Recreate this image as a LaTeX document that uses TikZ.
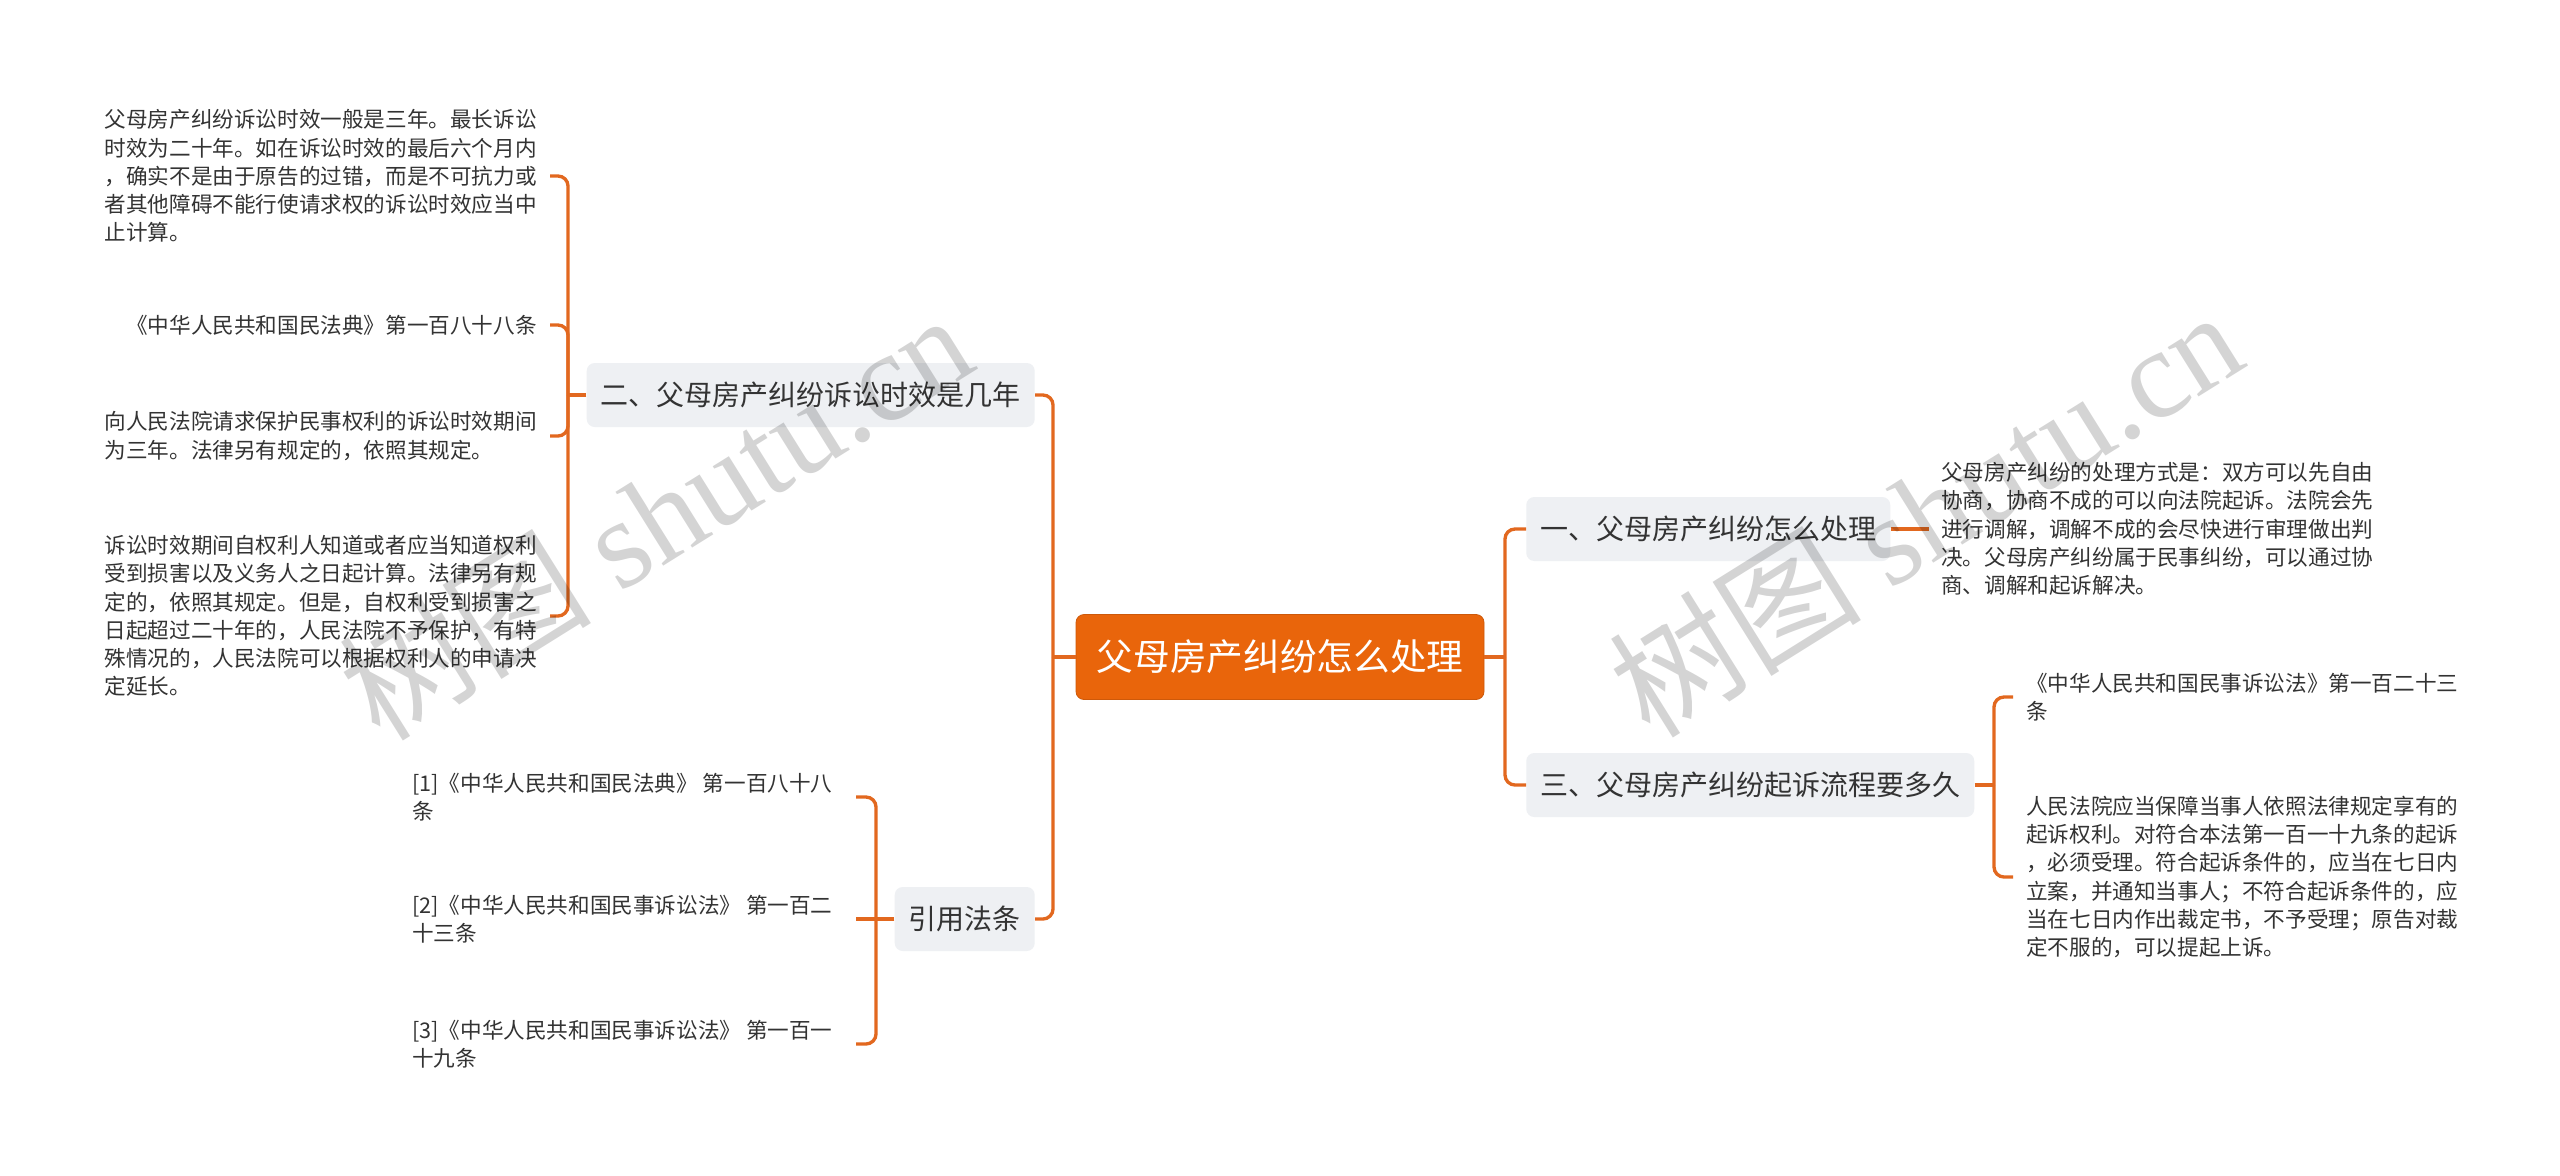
\documentclass[tikz,border=0pt]{standalone}
\usepackage{fontspec}
\setmainfont{Noto Sans CJK SC}
\newfontfamily\wmfont{Liberation Serif}
\definecolor{lineor}{HTML}{E2681F}
\definecolor{rootor}{HTML}{E9650B}
\definecolor{boxgray}{HTML}{EEF0F3}
\definecolor{txt}{HTML}{333333}
\tikzset{
  rootbox/.style={fill=rootor, draw=rootor!88!black, line width=0.6pt, text=white,
    rounded corners=6pt, minimum width=306pt, minimum height=63.75pt, inner xsep=14pt,
    font=\fontsize{27.5}{33}\selectfont},
  branch/.style={fill=boxgray, draw=none, text=txt, rounded corners=6pt,
    minimum height=48pt, inner xsep=10.5pt, inner ysep=0pt,
    font=\fontsize{21}{25}\selectfont},
  leaf/.style={align=left, inner sep=0pt, text=txt,
    font=\fontsize{16.2}{21.15}\selectfont},
  conn/.style={draw=lineor, line width=2.5pt, rounded corners=7.5pt},
  wmark/.style={rotate=32, text=black, text opacity=0.17, inner sep=0pt,
    font=\fontsize{95}{100}\selectfont}
}
\begin{document}
\begin{tikzpicture}[x=0.75pt,y=-0.75pt]
\fill[white] (0,0) rectangle (2560,1175);
\useasboundingbox (0,0) rectangle (2560,1175);

% root and branches
\node[rootbox] (root) at (1280,657) {父母房产纠纷怎么处理};
\node[branch, anchor=east] (b2) at (1035,395) {二、父母房产纠纷诉讼时效是几年};
\node[branch, anchor=east] (b4) at (1035,919) {引用法条};
\node[branch, anchor=west] (b1) at (1526,529) {一、父母房产纠纷怎么处理};
\node[branch, anchor=west] (b3) at (1526,785) {三、父母房产纠纷起诉流程要多久};

% leaves of branch 二
\node[leaf, anchor=east] (c21) at (537,176) {父母房产纠纷诉讼时效一般是三年。最长诉讼\\时效为二十年。如在诉讼时效的最后六个月内\\，确实不是由于原告的过错，而是不可抗力或\\者其他障碍不能行使请求权的诉讼时效应当中\\止计算。};
\node[leaf, anchor=east] (c22) at (537,325) {《中华人民共和国民法典》第一百八十八条};
\node[leaf, anchor=east] (c23) at (537,436) {向人民法院请求保护民事权利的诉讼时效期间\\为三年。法律另有规定的，依照其规定。};
\node[leaf, anchor=east] (c24) at (537,616) {诉讼时效期间自权利人知道或者应当知道权利\\受到损害以及义务人之日起计算。法律另有规\\定的，依照其规定。但是，自权利受到损害之\\日起超过二十年的，人民法院不予保护，有特\\殊情况的，人民法院可以根据权利人的申请决\\定延长。};

% leaves of 引用法条
\node[leaf, anchor=west] (c41) at (412,797) {[1]《中华人民共和国民法典》 第一百八十八\\条};
\node[leaf, anchor=west] (c42) at (412,919) {[2]《中华人民共和国民事诉讼法》 第一百二\\十三条};
\node[leaf, anchor=west] (c43) at (412,1044) {[3]《中华人民共和国民事诉讼法》 第一百一\\十九条};

% leaf of branch 一
\node[leaf, anchor=west] (c11) at (1941,529) {父母房产纠纷的处理方式是：双方可以先自由\\协商，协商不成的可以向法院起诉。法院会先\\进行调解，调解不成的会尽快进行审理做出判\\决。父母房产纠纷属于民事纠纷，可以通过协\\商、调解和起诉解决。};

% leaves of branch 三
\node[leaf, anchor=west] (c31) at (2026,697) {《中华人民共和国民事诉讼法》第一百二十三\\条};
\node[leaf, anchor=west] (c32) at (2026,877) {人民法院应当保障当事人依照法律规定享有的\\起诉权利。对符合本法第一百一十九条的起诉\\，必须受理。符合起诉条件的，应当在七日内\\立案，并通知当事人；不符合起诉条件的，应\\当在七日内作出裁定书，不予受理；原告对裁\\定不服的，可以提起上诉。};

% junction coordinates
\coordinate (tl) at (1053,657);
\coordinate (tr) at (1505,657);
\coordinate (t2) at (568,395);
\coordinate (t4) at (876,919);
\coordinate (e4) at (856,919);
\coordinate (t3) at (1994,785);

% connectors: root
\draw[conn] (root.west) -- (tl);
\draw[conn] (tl) |- (b2.east);
\draw[conn] (tl) |- (b4.east);
\draw[conn] (root.east) -- (tr);
\draw[conn] (tr) |- (b1.west);
\draw[conn] (tr) |- (b3.west);

% connectors: branch 二
\draw[conn] (b2.west) -- (t2);
\draw[conn] (t2) |- ([xshift=9.75pt]c21.east);
\draw[conn] (t2) |- ([xshift=9.75pt]c22.east);
\draw[conn] (t2) |- ([xshift=9.75pt]c23.east);
\draw[conn] (t2) |- ([xshift=9.75pt]c24.east);

% connectors: 引用法条
\draw[conn] (b4.west) -- (c42.east -| e4);
\draw[conn] (t4) |- (c41.east -| e4);
\draw[conn] (t4) |- (c43.east -| e4);

% connectors: branch 一 and 三
\draw[conn] (b1.east) -- ([xshift=-9pt]c11.west);
\draw[conn] (b3.east) -- (t3);
\draw[conn] (t3) |- ([xshift=-9.75pt]c31.west);
\draw[conn] (t3) |- ([xshift=-9.75pt]c32.west);

% watermarks
\node[wmark] (wm1) at (655,515) {树图 {\wmfont shutu.cn}};
\node[wmark] (wm2) at (1925,512) {树图 {\wmfont shutu.cn}};
\end{tikzpicture}
\end{document}
